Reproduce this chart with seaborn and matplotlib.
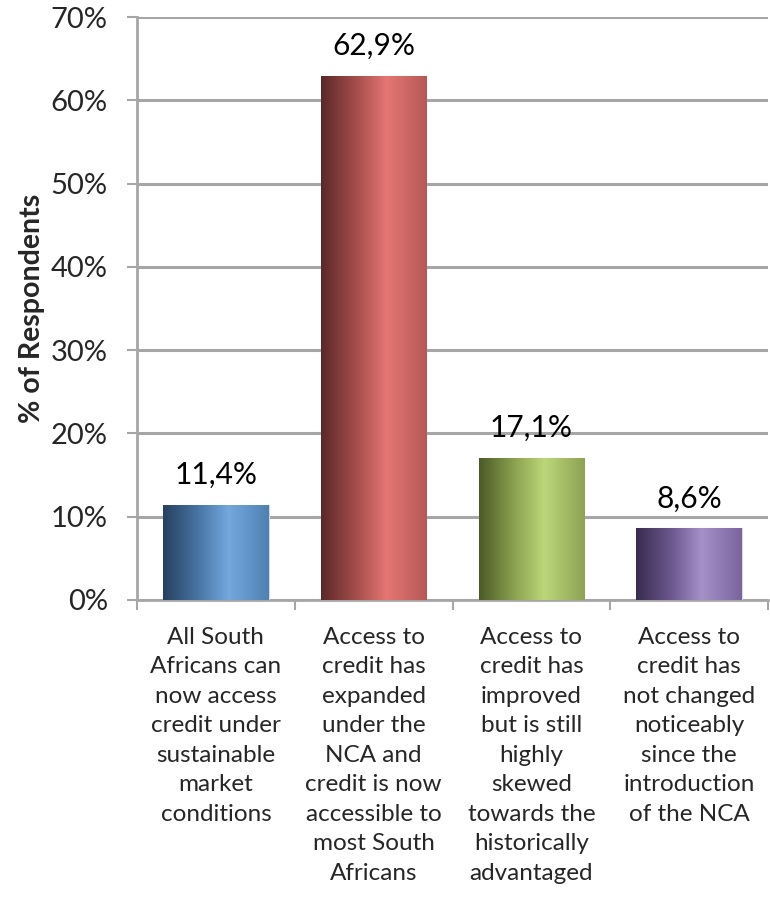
import numpy as np
import pandas as pd
import matplotlib
matplotlib.use("Agg")
import matplotlib.pyplot as plt
import seaborn as sns
from matplotlib.colors import LinearSegmentedColormap

categories = [
    "All South\nAfricans can\nnow access\ncredit under\nsustainable\nmarket\nconditions",
    "Access to\ncredit has\nexpanded\nunder the\nNCA and\ncredit is now\naccessible to\nmost South\nAfricans",
    "Access to\ncredit has\nimproved\nbut is still\nhighly\nskewed\ntowards the\nhistorically\nadvantaged",
    "Access to\ncredit has\nnot changed\nnoticeably\nsince the\nintroduction\nof the NCA",
]
values = [11.4, 62.9, 17.1, 8.6]
value_labels = ["11,4%", "62,9%", "17,1%", "8,6%"]
y_ticks = [0, 10, 20, 30, 40, 50, 60, 70]
y_label = "% of Respondents"
base_colors = ["#5b8fc9", "#c9605c", "#9bb85a", "#8670ab"]
gradients = [
    ["#26405e", "#4a78a8", "#74a8de", "#4f80b2"],
    ["#5a2828", "#a8504d", "#e57673", "#b65956"],
    ["#4b5a28", "#8ea552", "#bcd77a", "#8da253"],
    ["#382c4e", "#6f5a92", "#a590c8", "#7a649e"],
]

sns.set_theme(style="white")
plt.rcParams["font.family"] = ["Lato", "DejaVu Sans"]

fig = plt.figure(figsize=(7.7, 9.06), dpi=100)
ax = fig.add_axes([137/770, 1-600/906, (768-137)/770, (600-17)/906])

df = pd.DataFrame({"cat": categories, "val": values})
sns.barplot(data=df, x="cat", y="val", hue="cat", palette=base_colors,
            width=0.67, legend=False, ax=ax, zorder=3, saturation=1)

ax.set_ylim(0, 70)
ax.set_xlim(-0.5, len(categories) - 0.5)
ax.set_yticks(y_ticks)
ax.set_yticklabels([f"{t}%" for t in y_ticks], fontsize=21)
ax.yaxis.grid(True, color="#a6a6a6", linewidth=2.2, zorder=0)
ax.set_axisbelow(True)

# gradient fill for bars
for patch, cols in zip(ax.patches, gradients):
    x0, y0 = patch.get_x(), patch.get_y()
    w, h = patch.get_width(), patch.get_height()
    cmap = LinearSegmentedColormap.from_list("g", list(zip([0, 0.35, 0.62, 1.0], cols)))
    grad = np.linspace(0, 1, 256).reshape(1, -1)
    im = ax.imshow(grad, cmap=cmap, extent=[x0, x0 + w, y0, y0 + h],
                   aspect="auto", zorder=3.5, interpolation="bicubic")
    im.set_clip_path(patch)
    patch.set_edgecolor("#d8d8d8")
    patch.set_linewidth(0.8)

for i, (v, lab) in enumerate(zip(values, value_labels)):
    ax.text(i, v + 3.6, lab, ha="center", va="center", fontsize=21.5, color="black", zorder=5)

# x ticks at category boundaries
ax.set_xticks([])
ax.set_xticks(np.arange(-0.5, len(categories)), minor=True)
ax.tick_params(axis="x", which="minor", direction="out", length=7, width=1.5, color="#a6a6a6", bottom=True)
ax.tick_params(axis="y", direction="out", length=7, width=1.5, color="#a6a6a6", left=True, pad=14)
for i, c in enumerate(categories):
    ax.text(i, -3.2, c, ha="center", va="top", fontsize=17.5, linespacing=1.5,
            transform=ax.transData, clip_on=False)

ax.set_xlabel("")
ax.set_ylabel(y_label, fontsize=20.5, fontweight="bold", labelpad=4)

for s in ["top", "right"]:
    ax.spines[s].set_visible(False)
ax.spines["left"].set_color("#a6a6a6")
ax.spines["left"].set_linewidth(2)
ax.spines["bottom"].set_color("#a6a6a6")
ax.spines["bottom"].set_linewidth(2)

fig.savefig("out.png", dpi=100)
